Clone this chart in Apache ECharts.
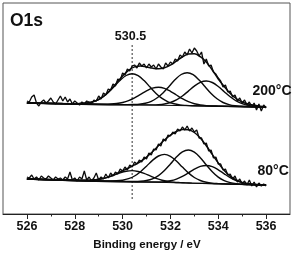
<!DOCTYPE html>
<html><head><meta charset="utf-8">
<script src="https://cdn.jsdelivr.net/npm/echarts@6/dist/echarts.min.js"></script>
<style>html,body{margin:0;padding:0;background:#fff}#c{width:294px;height:256px}</style>
</head><body><div id="c"></div>
<script>
// ---- data (binding energy in eV, intensity in arbitrary units) ----
const xTicks = [526, 528, 530, 532, 534, 536];
const xMinorTicks = [527, 529, 531, 533, 535];
const refLineEnergy = 530.4;
const refLineSpan = [15, 169];
const rawStart = 526, rawStep = 0.1;

const top200Raw = [113,112,117,119,111,108,112,114,111,113,116,112,110,114,118,113,117,112,115,110,
113,111,109,112,110,113,112,110,114,113,118,115,121,119,125,124,130,128,135,134,
141,139,145,143,148,149,146,151,148,150,146,150,147,149,145,150,147,145,151,148,
152,150,155,153,159,157,162,159,165,161,166,163,158,162,150,155,148,149,142,140,
136,133,127,129,122,123,117,119,113,116,111,114,109,112,107,111,104,110,103,109,106];

const bot80Raw = [37,36,39,35,37,34,38,36,35,38,36,34,37,35,36,34,37,35,42,34,
36,33,37,35,43,34,37,33,36,41,34,37,35,40,36,41,38,42,40,45,
43,47,44,49,47,52,50,54,52,57,55,61,59,65,64,70,68,75,73,79,
78,82,80,85,83,87,84,88,83,86,82,84,76,76,70,71,63,64,56,57,
50,50,44,45,39,40,35,38,32,35,30,33,29,34,28,32,27,31,28,30,28];

const top200Bg = [[526,111],[536,107]];
const top200Env = [[526,111],[526.5,110.8],[527,110.6],[527.5,110.4],[528,110.3],[528.25,110.5],[528.5,111.0],[528.75,112.2],[529,114.5],[529.25,118.5],[529.5,124.2],[529.75,131.1],[530,138.1],[530.25,143.7],[530.5,147.1],[530.75,148.1],[531,147.1],[531.25,145.9],[531.5,145.3],[531.75,146.3],[532,148.8],[532.25,152.9],[532.5,157.0],[532.75,160.0],[533,160.3],[533.25,157.3],[533.5,152],[533.75,144],[534,135],[534.25,127.5],[534.5,120.5],[534.75,115.5],[535,112],[535.25,110],[535.5,108.7],[535.75,107.7],[536,107.2]];
const top200P1 = [[526,111],[527.9,110.3],[528.15,110.4],[528.4,110.7],[528.65,111.6],[528.9,113.4],[529.15,116.6],[529.4,121.4],[529.65,127.5],[529.9,133.8],[530.15,138.5],[530.4,140.2],[530.65,138.3],[530.9,133.4],[531.15,126.9],[531.4,120.6],[531.65,115.6],[531.9,112.2],[532.15,110.2],[532.4,109.1],[532.65,108.6],[532.9,108.3],[536,107]];
const top200P2 = [[526,111],[529.0,109.9],[529.25,109.8],[529.5,110.0],[529.75,110.5],[530.0,111.5],[530.25,113.3],[530.5,116.1],[530.75,119.6],[531.0,123.1],[531.25,125.9],[531.5,126.8],[531.75,125.7],[532.0,122.7],[532.25,119.0],[532.5,115.3],[532.75,112.3],[533.0,110.3],[533.25,109.1],[533.5,108.4],[533.75,108.0],[534.0,107.9],[536,107]];
const top200P3 = [[526,111],[530.2,109.4],[530.45,109.5],[530.7,109.8],[530.95,110.8],[531.2,112.7],[531.45,116.2],[531.7,121.3],[531.95,127.8],[532.2,134.4],[532.45,139.5],[532.7,141.3],[532.95,139.3],[533.2,134.0],[533.45,127.2],[533.7,120.5],[533.95,115.2],[534.2,111.5],[534.45,109.4],[534.7,108.2],[534.95,107.7],[535.2,107.4],[536,107]];
const top200P4 = [[526,111],[531.0,109.1],[531.25,109.1],[531.5,109.3],[531.75,110.0],[532.0,111.5],[532.25,114.1],[532.5,118.0],[532.75,122.9],[533.0,127.9],[533.25,131.7],[533.5,133.0],[533.75,131.5],[534.0,127.5],[534.25,122.3],[534.5,117.2],[534.75,113.1],[535.0,110.3],[535.25,108.6],[535.5,107.7],[535.75,107.3],[536,107.1]];

const bot80Bg = [[526,35],[536,29]];
const bot80Env = [[526,35],[526.5,34.7],[527,34.4],[527.5,34.1],[528,33.8],[528.5,33.8],[528.75,34.0],[529,34.7],[529.25,35.9],[529.5,37.9],[529.75,40.4],[530,43.2],[530.25,46.0],[530.5,49.1],[530.75,52.5],[531,56.9],[531.25,62.2],[531.5,68.2],[531.75,74.0],[532,78.9],[532.25,82.5],[532.5,84.5],[532.75,84.2],[533,81.5],[533.25,76.0],[533.5,68.3],[533.75,59.6],[534,51.1],[534.25,43.5],[534.5,37.8],[534.75,34.0],[535,31.6],[535.25,30.3],[535.5,29.6],[535.75,29.3],[536,29.0]];
const bot80P1 = [[526,35],[527.9,33.9],[528.15,33.8],[528.4,33.8],[528.65,33.9],[528.9,34.4],[529.15,35.3],[529.4,36.9],[529.65,39.0],[529.9,41.2],[530.15,42.8],[530.4,43.4],[530.65,42.5],[530.9,40.6],[531.15,38.1],[531.4,35.7],[531.65,33.8],[531.9,32.6],[532.15,31.8],[532.4,31.4],[532.65,31.1],[532.9,30.9],[536,29]];
const bot80P2 = [[526,35],[529.25,33.1],[529.5,33.1],[529.75,33.2],[530,33.8],[530.25,35.3],[530.5,38.0],[530.75,42.3],[531,47.8],[531.25,53.6],[531.5,58.0],[531.75,59.6],[532,57.7],[532.25,53.0],[532.5,46.9],[532.75,41.1],[533,36.5],[533.25,33.5],[533.5,31.7],[533.75,30.8],[534,30.4],[534.25,30.1],[536,29]];
const bot80P3 = [[526,35],[530.25,32.5],[530.5,32.5],[530.75,32.7],[531,33.5],[531.25,35.2],[531.5,38.4],[531.75,43.5],[532,50.0],[532.25,56.9],[532.5,62.1],[532.75,64.0],[533,61.8],[533.25,56.3],[533.5,49.1],[533.75,42.3],[534,36.9],[534.25,33.4],[534.5,31.4],[534.75,30.3],[535,29.8],[535.25,29.5],[536,29]];
const bot80P4 = [[526,35],[531,32.0],[531.25,32.0],[531.5,32.0],[531.75,32.3],[532,33.2],[532.25,34.9],[532.5,37.6],[532.75,41.1],[533,44.8],[533.25,47.6],[533.5,48.5],[533.75,47.3],[534,44.2],[534.25,40.2],[534.5,36.4],[534.75,33.4],[535,31.4],[535.25,30.2],[535.5,29.6],[535.75,29.3],[536,29.0]];

// ---- build chart ----
const FONT = '"Liberation Sans", Arial, Helvetica, sans-serif';
const INK = '#0a0a0a';
function rawPairs(arr){ return arr.map((v,i)=>[+(rawStart + i*rawStep).toFixed(2), v]); }
function lineSeries(data, width, smooth){
  return {type:'line', data, symbol:'none', showSymbol:false, silent:true, animation:false,
    smooth: smooth ? 0.35 : false, lineStyle:{color:INK, width}, z:2};
}
const series = [
  lineSeries(top200Bg, 1.1, false),
  lineSeries(top200P1, 1.4, true), lineSeries(top200P2, 1.4, true),
  lineSeries(top200P3, 1.4, true), lineSeries(top200P4, 1.4, true),
  lineSeries(top200Env, 1.5, true),
  lineSeries(rawPairs(top200Raw), 1.3, false),
  lineSeries(bot80Bg, 1.1, false),
  lineSeries(bot80P1, 1.4, true), lineSeries(bot80P2, 1.4, true),
  lineSeries(bot80P3, 1.4, true), lineSeries(bot80P4, 1.4, true),
  lineSeries(bot80Env, 1.5, true),
  lineSeries(rawPairs(bot80Raw), 1.3, false),
  {type:'line', data:[[refLineEnergy, refLineSpan[0]],[refLineEnergy, refLineSpan[1]]], symbol:'none',
   silent:true, animation:false, lineStyle:{color:'#333', width:1, type:[2,2]}, z:1}
];

const chart = echarts.init(document.getElementById('c'), null, {renderer:'canvas'});
chart.setOption({
  animation:false,
  backgroundColor:'#fff',
  grid:{left:3, right:4, top:3, bottom:42, show:true, borderColor:'#555', borderWidth:1, backgroundColor:'transparent'},
  xAxis:[{
    type:'value', min:525, max:537, position:'bottom',
    axisLine:{show:true, lineStyle:{color:'#222', width:1}},
    axisTick:{show:true, length:5, inside:false, customValues:xTicks, lineStyle:{color:'#222'}},
    axisLabel:{show:true, customValues:xTicks, margin:6, color:'#111', fontFamily:FONT, fontWeight:'bold', fontSize:12.5},
    splitLine:{show:false}
  },{
    type:'value', min:525, max:537, position:'bottom', gridIndex:0,
    axisLine:{show:false},
    axisTick:{show:true, length:2.5, customValues:xMinorTicks, lineStyle:{color:'#222'}},
    axisLabel:{show:false}, splitLine:{show:false}
  }],
  yAxis:{type:'value', min:0, max:211, show:false, splitLine:{show:false}},
  series,
  graphic:[
    {type:'text', left:10, top:12, style:{text:'O1s', font:'bold 17.5px '+FONT, fill:'#111'}},
    {type:'text', x:130.5, y:36.5, style:{text:'530.5', font:'bold 12.5px '+FONT, fill:'#111', textAlign:'center', textVerticalAlign:'middle'}},
    {type:'text', x:252.5, y:91.5, style:{text:'200°C', font:'bold 14px '+FONT, fill:'#111', textAlign:'left', textVerticalAlign:'middle'}},
    {type:'text', x:257.5, y:171.5, style:{text:'80°C', font:'bold 14px '+FONT, fill:'#111', textAlign:'left', textVerticalAlign:'middle'}},
    {type:'text', x:147, y:244.5, style:{text:'Binding energy / eV', font:'bold 11.5px '+FONT, fill:'#111', textAlign:'center', textVerticalAlign:'middle'}}
  ]
});
</script>
</body></html>
